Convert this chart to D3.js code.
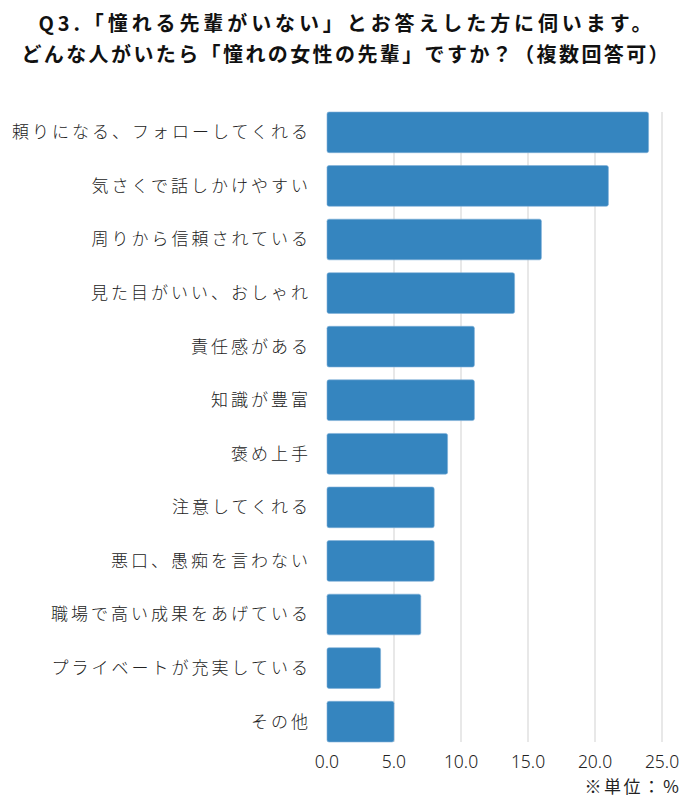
<!DOCTYPE html>
<html><head><meta charset="utf-8">
<script src="https://cdn.jsdelivr.net/npm/d3@7"></script>
<style>body{margin:0;background:#fff}</style>
</head><body>
<svg id="chart" width="690" height="800"></svg>
<script>
const titleLines = ["Q3.「憧れる先輩がいない」とお答えした方に伺います。", "どんな人がいたら「憧れの女性の先輩」ですか？（複数回答可）"];
const categories = ["頼りになる、フォローしてくれる","気さくで話しかけやすい","周りから信頼されている","見た目がいい、おしゃれ","責任感がある","知識が豊富","褒め上手","注意してくれる","悪口、愚痴を言わない","職場で高い成果をあげている","プライベートが充実している","その他"];
const values = [24,21,16,14,11,11,9,8,8,7,4,5];
const tickValues = [0,5,10,15,20,25];
const unitNote = "※単位：％";

const svg = d3.select("#chart");
const x = d3.scaleLinear().domain([0,25]).range([327,662]);
const y = d3.scaleBand().domain(categories).range([112,742]).paddingInner(0.24).paddingOuter(0);
const jp = "'Noto Sans CJK JP','Noto Sans',sans-serif";
const titleSpacing = [3.9, 2.4];

svg.selectAll("text.title").data(titleLines).join("text")
  .attr("x",(d,i)=>345+titleSpacing[i]/2).attr("y",(d,i)=>31+i*31)
  .attr("text-anchor","middle").attr("font-family",jp).attr("font-weight","bold")
  .attr("font-size",20).attr("letter-spacing",(d,i)=>titleSpacing[i]).attr("fill","#111").text(d=>d);

svg.selectAll("line.grid").data(tickValues.slice(1)).join("line")
  .attr("x1",d=>x(d)).attr("x2",d=>x(d)).attr("y1",112).attr("y2",742)
  .attr("stroke","#d9d9d9").attr("stroke-width",1.2);

svg.selectAll("rect.bar").data(values).join("rect")
  .attr("x",x(0)).attr("y",(d,i)=>y(categories[i]))
  .attr("width",d=>x(d)-x(0)).attr("height",y.bandwidth())
  .attr("rx",2).attr("fill","#3585bf").attr("stroke","#7fb0d8").attr("stroke-width",0.6);

svg.selectAll("text.cat").data(categories).join("text")
  .attr("x",311).attr("y",d=>y(d)+y.bandwidth()/2)
  .attr("dy","0.35em").attr("text-anchor","end").attr("font-family",jp)
  .attr("font-weight",300).attr("font-size",17).attr("letter-spacing",3)
  .attr("fill","#222").text(d=>d);

svg.selectAll("text.tick").data(tickValues).join("text")
  .attr("x",d=>x(d)).attr("y",768).attr("text-anchor","middle")
  .attr("font-family","'Noto Sans',sans-serif").attr("font-weight",300)
  .attr("font-size",17.5).attr("fill","#222").text(d=>d.toFixed(1));

svg.append("text").attr("x",682).attr("y",793).attr("text-anchor","end")
  .attr("font-family",jp).attr("font-size",17).attr("letter-spacing",2.5)
  .attr("fill","#222").text(unitNote);
</script>
</body></html>
